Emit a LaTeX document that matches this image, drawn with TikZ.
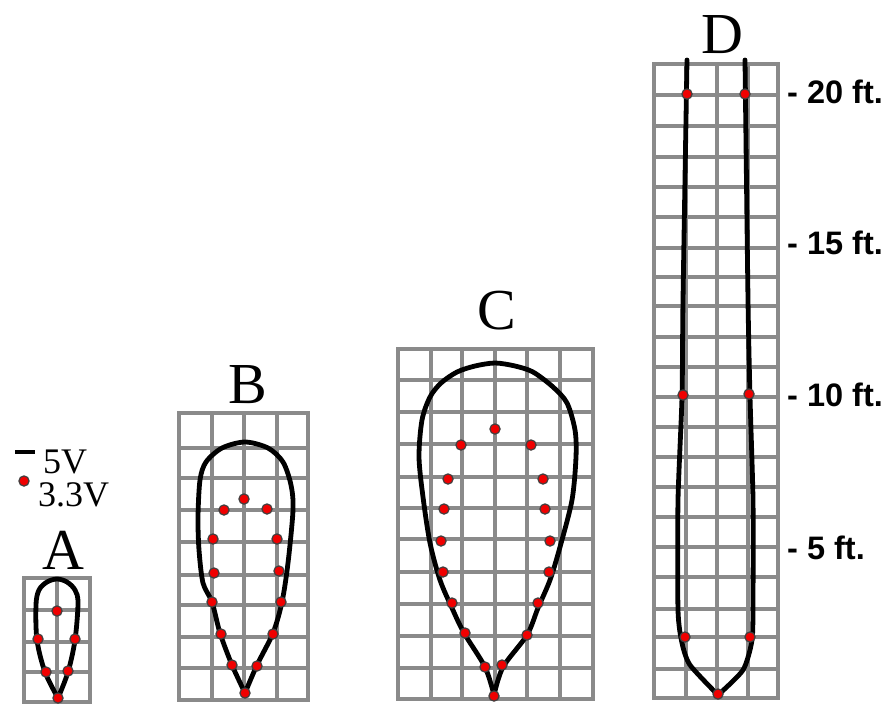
\documentclass[tikz,border=0pt]{standalone}
\usepackage{fontspec}
\setmainfont{Liberation Serif}
\newfontfamily\labelfont{Liberation Sans}
\definecolor{gridgray}{HTML}{8A8A8A}
\definecolor{dotred}{HTML}{F00000}
\tikzset{
  gridline/.style={draw=gridgray,line width=3.4pt,line cap=rect},
  outline/.style={draw=black,line width=4.8pt,line join=round,line cap=round},
  vdot/.style={fill=dotred,draw=black!75,line width=1.2pt},
  title/.style={inner sep=0pt,font=\fontsize{58}{58}\selectfont,text=black},
  legend/.style={inner sep=0pt,anchor=west,font=\fontsize{36}{36}\selectfont,text=black},
  height/.style={inner sep=0pt,anchor=west,font=\labelfont\bfseries\fontsize{32.5}{32.5}\selectfont}
}
\newcommand{\gridbox}[2]{%
  \def\xmin{0}\def\xmax{0}\def\ymin{0}\def\ymax{0}%
  \foreach \gx [count=\i] in {#1} {%
    \ifnum\i=1 \global\let\xmin\gx\fi \global\let\xmax\gx}%
  \foreach \gy [count=\i] in {#2} {%
    \ifnum\i=1 \global\let\ymin\gy\fi \global\let\ymax\gy}%
  \foreach \gx in {#1} {\draw[gridline] (\gx,\ymin) -- (\gx,\ymax);}%
  \foreach \gy in {#2} {\draw[gridline] (\xmin,\gy) -- (\xmax,\gy);}%
}
\begin{document}
\begin{tikzpicture}[x=1pt,y=-1pt]
\useasboundingbox (0,0) rectangle (890,705);
\fill[white] (0,0) rectangle (890,705);

% grids
\gridbox{24,57,90}{578,610,642,672,702}
\gridbox{179,212,244,277,308}{413,448,478,510,542,575,605,637,668,700}
\gridbox{398,431,462,495,527,560,593}{349,380,412,444,477,508,539,572,604,636,668,699}
\gridbox{654,686,717,748,778}{64,95,126,157,187,217,248,277,306,337,367,397,427,457,487,517,547,577,609,637,669,698}

% outlines
\draw[outline] plot[smooth,tension=0.55] coordinates {(58,698) (45,672) (37,640) (36,605) (39,590) (47,582) (57,579) (67,582) (75,590) (78,603) (75,640) (68,672) (58,698)};
\draw[outline] plot[smooth,tension=0.5] coordinates {(245,693) (232,665) (220,633) (212,602) (203,583) (199,550) (198,517) (200,480) (206,462) (222,448) (245,442) (268,448) (283,462) (291,485) (293,510) (288,563) (282,602) (273,633) (257,665) (245,693)};
\draw[outline] plot[smooth,tension=0.5] coordinates {(494,695) (485,667) (464,633) (452,608) (440,580) (430,543) (423,497) (419,457) (422,420) (430,397) (441,383) (457,372) (475,366) (495,363) (515,366) (533,372) (553,387) (567,403) (575,430) (576,457) (572,500) (560,547) (550,580) (538,608) (527,635) (503,667) (494,695)};
\draw[outline] plot[smooth,tension=0.4] coordinates {(718,695) (690,665) (682,643) (678,610) (678,500) (682,397) (683,300) (687,60)};
\draw[outline] plot[smooth,tension=0.4] coordinates {(718,695) (743,670) (752,640) (753,600) (753,500) (750,397) (748,300) (745,60)};

% voltage points
\foreach \px/\py in {57/611,38/639,75/639,46/672,68/671,58/698,
  244/499,224/510,267/509,213/539,277/539,214/573,279/571,212/602,281/602,221/634,273/634,232/665,257/666,245/693,
  495/429,461/445,531/445,448/479,543/479,444/509,545/509,441/541,550/541,443/572,549/572,452/603,538/603,465/633,527/635,485/667,502/665,494/696,
  687/94,745/94,683/395,749/394,685/637,750/637,718/694}
  {\filldraw[vdot] (\px,\py) circle (5.1pt);}

% legend
\draw[line width=3.8pt] (15,452) -- (35,452);
\filldraw[vdot] (24,481) circle (5.1pt);
\node[legend] (l5) at (43,462) {5V};
\node[legend] (l33) at (38,495) {3.3V};

% titles
\node[title] (ta) at (63,550) {A};
\node[title] (tb) at (248,385) {B};
\node[title] (tc) at (497,311) {C};
\node[title] (td) at (722,35) {D};

% heights
\node[height] (h20) at (787,92) {- 20 ft.};
\node[height] (h15) at (787,243) {- 15 ft.};
\node[height] (h10) at (787,395) {- 10 ft.};
\node[height] (h5) at (787,548) {- 5 ft.};
\end{tikzpicture}
\end{document}
